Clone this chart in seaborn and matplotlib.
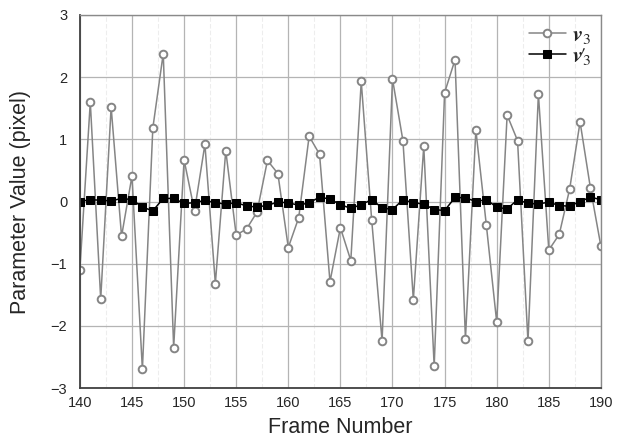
import numpy as np
import pandas as pd
import matplotlib
matplotlib.use('Agg')
import matplotlib.pyplot as plt
import seaborn as sns
from matplotlib.ticker import MultipleLocator

frames = list(range(140, 191))
v3 = [-1.10, 1.60, -1.57, 1.52, -0.56, 0.41, -2.70, 1.18, 2.38, -2.35,
      0.67, -0.15, 0.92, -1.32, 0.82, -0.54, -0.44, -0.17, 0.66, 0.45,
      -0.74, -0.26, 1.05, 0.76, -1.29, -0.42, -0.95, 1.93, -0.29, -2.24,
      1.97, 0.98, -1.58, 0.89, -2.65, 1.75, 2.28, -2.21, 1.15, -0.37,
      -1.94, 1.39, 0.98, -2.25, 1.73, -0.78, -0.53, 0.20, 1.28, 0.21,
      -0.72]
v3_prime = [0.00, 0.03, 0.02, 0.01, 0.05, 0.03, -0.09, -0.15, 0.05, 0.05,
            -0.03, -0.02, 0.02, -0.02, -0.04, -0.02, -0.07, -0.09, -0.06, -0.01,
            -0.02, -0.06, -0.02, 0.07, 0.04, -0.05, -0.11, -0.05, 0.03, -0.10,
            -0.13, 0.03, -0.02, -0.04, -0.13, -0.145, 0.065, 0.06, 0.00, 0.03,
            -0.09, -0.12, 0.03, -0.03, -0.04, -0.01, -0.065, -0.075, 0.00, 0.07,
            0.03]

df = pd.DataFrame({'frame': frames, 'v3': v3, 'v3p': v3_prime})

sns.set_style('white')
plt.rcParams['font.family'] = ['Liberation Sans', 'DejaVu Sans']
plt.rcParams['mathtext.fontset'] = 'stix'

fig = plt.figure(figsize=(6.24, 4.4), dpi=100)
ax = fig.add_axes([0.128, 0.118, 0.835, 0.848])

sns.lineplot(data=df, x='frame', y='v3', ax=ax, color='#858585', linewidth=1.1,
             marker='o', markersize=5.5, markerfacecolor='white',
             markeredgecolor='#858585', markeredgewidth=1.4, label=r'$\mathbfit{v}_3$')
sns.lineplot(data=df, x='frame', y='v3p', ax=ax, color='black', linewidth=1.1,
             marker='s', markersize=5.5, markerfacecolor='black',
             markeredgecolor='black', label=r"$\mathbfit{v}\!\prime_{\!\!3}$")

ax.set_xlim(140, 190)
ax.set_ylim(-3, 3)
ax.xaxis.set_major_locator(MultipleLocator(5))
ax.xaxis.set_minor_locator(MultipleLocator(2.5))
ax.yaxis.set_major_locator(MultipleLocator(1))
ax.grid(which='major', color='#b4b4b4', linewidth=0.9)
ax.grid(which='minor', axis='x', color='#ededed', linewidth=0.8, linestyle=(0, (4, 2)))
ax.tick_params(length=0, labelsize=10.5, pad=6)
ax.tick_params(axis='y', pad=9)

for s in ['top', 'right']:
    ax.spines[s].set_color('#8a8a8a')
    ax.spines[s].set_linewidth(1.0)
for s in ['left', 'bottom']:
    ax.spines[s].set_color('#404040')
    ax.spines[s].set_linewidth(1.3)

ax.set_xlabel('Frame Number', fontsize=15.5, labelpad=5)
ax.set_ylabel('Parameter Value (pixel)', fontsize=15.5, labelpad=14)

leg = ax.legend(loc='upper right', frameon=False, fontsize=16, handlelength=1.7,
                handletextpad=0.25, labelspacing=0.0, borderaxespad=0.05)

plt.savefig('out.png', dpi=100)
